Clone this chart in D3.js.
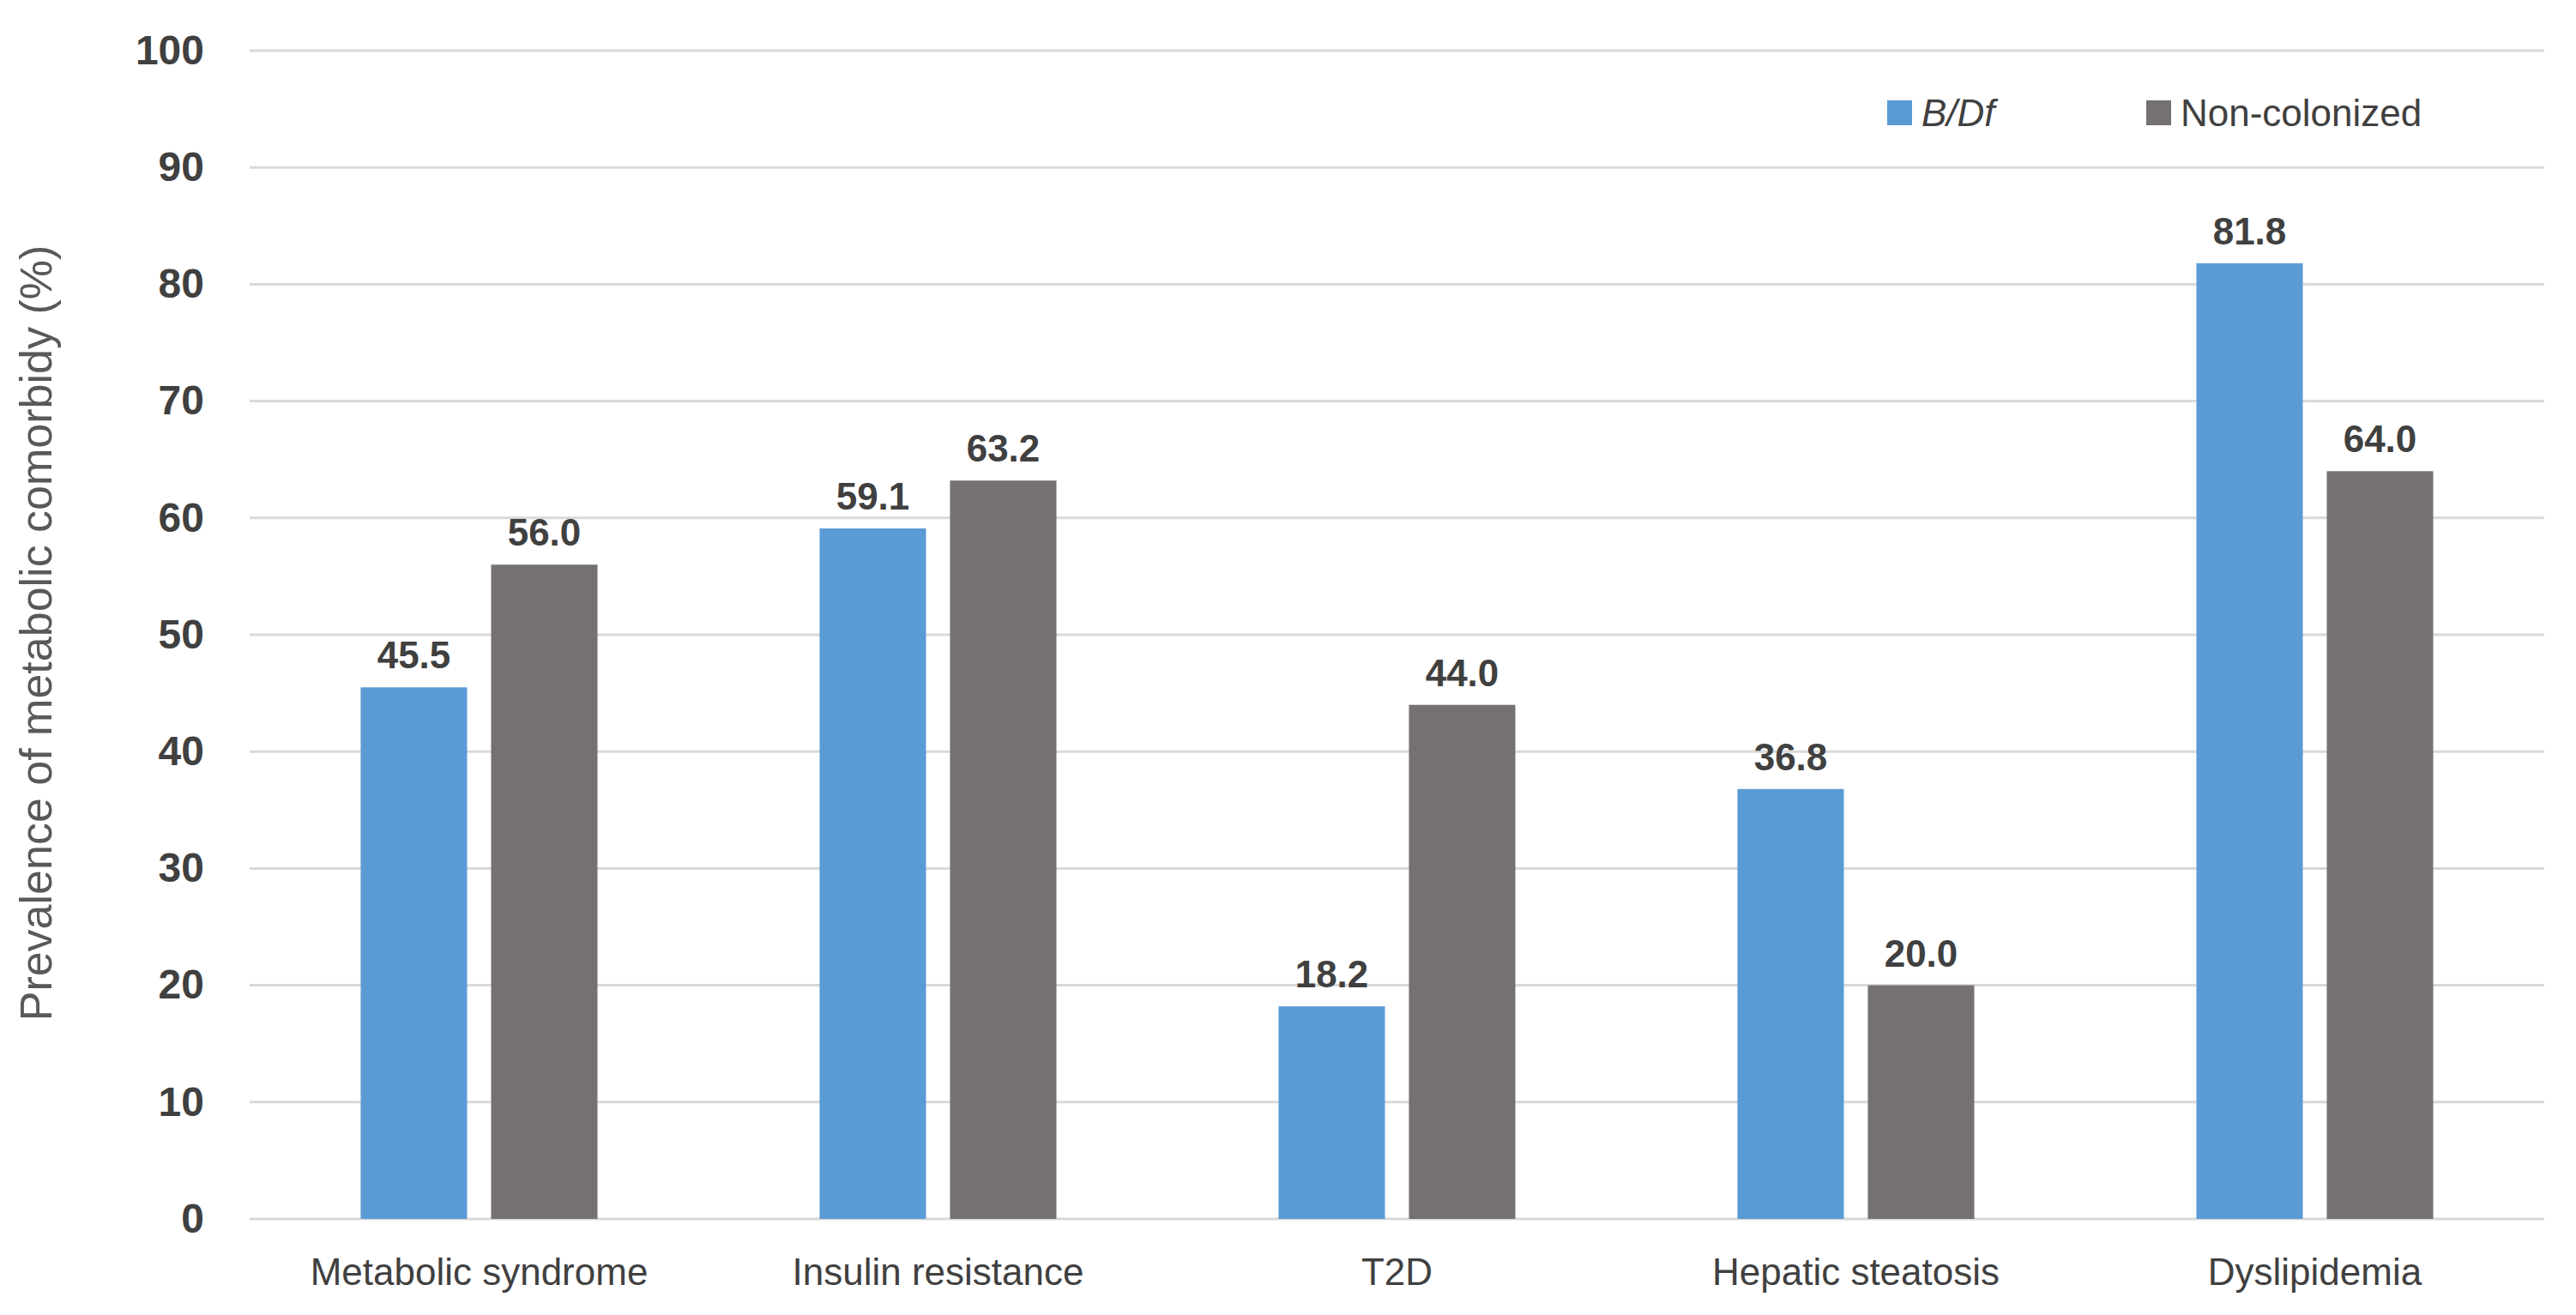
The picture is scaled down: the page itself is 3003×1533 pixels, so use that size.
<!DOCTYPE html>
<html>
<head>
<meta charset="utf-8">
<script src="https://cdn.jsdelivr.net/npm/d3@7"></script>
<style>
  body { margin: 0; background: #fff; }
  svg { display: block; }
</style>
</head>
<body>
<div id="chart"></div>
<script>
const categories = ["Metabolic syndrome", "Insulin resistance", "T2D", "Hepatic steatosis", "Dyslipidemia"];
const seriesNames = ["B/Df", "Non-colonized"];
const bdfValues = [45.5, 59.1, 18.2, 36.8, 81.8];
const nonColonizedValues = [56.0, 63.2, 44.0, 20.0, 64.0];
const yTicks = [0, 10, 20, 30, 40, 50, 60, 70, 80, 90, 100];

const W = 3003, H = 1533;
const margin = { top: 59, right: 37, bottom: 112, left: 291 };
const width = W - margin.left - margin.right;
const height = H - margin.top - margin.bottom;
const colors = { "B/Df": "#5B9BD5", "Non-colonized": "#767171" };
const textCol = "#404040";
const font = "'Liberation Sans', Arial, sans-serif";

const data = categories.map((c, i) => ({
  category: c,
  values: [
    { series: "B/Df", value: bdfValues[i] },
    { series: "Non-colonized", value: nonColonizedValues[i] },
  ],
}));

const svgRoot = d3.select("#chart").append("svg")
  .attr("width", W).attr("height", H)
  .style("font-family", font);
svgRoot.append("rect").attr("width", W).attr("height", H).attr("fill", "#fff");

const svg = svgRoot.append("g")
  .attr("transform", `translate(${margin.left},${margin.top})`);

const x0 = d3.scaleBand().domain(categories).range([0, width])
  .paddingInner(0.484).paddingOuter(0.242);
const x1 = d3.scaleBand().domain(seriesNames).range([0, x0.bandwidth()])
  .paddingInner(0.184);
const y = d3.scaleLinear().domain([0, 100]).range([height, 0]);

// gridlines
svg.append("g")
  .selectAll("line")
  .data(yTicks)
  .join("line")
  .attr("x1", 0).attr("x2", width)
  .attr("y1", (d) => y(d)).attr("y2", (d) => y(d))
  .attr("stroke", "#D9D9D9").attr("stroke-width", 3);

// y axis labels
const yAxis = svg.append("g")
  .call(d3.axisLeft(y).tickValues(yTicks).tickSize(0).tickPadding(53));
yAxis.select(".domain").remove();
yAxis.selectAll("text")
  .style("font-family", font)
  .style("font-size", "48px")
  .style("font-weight", "700")
  .style("fill", textCol);

// bars
const groups = svg.append("g")
  .selectAll("g")
  .data(data)
  .join("g")
  .attr("transform", (d) => `translate(${x0(d.category)},0)`);

groups.selectAll("rect")
  .data((d) => d.values)
  .join("rect")
  .attr("x", (d) => x1(d.series))
  .attr("y", (d) => y(d.value))
  .attr("width", x1.bandwidth())
  .attr("height", (d) => height - y(d.value))
  .attr("fill", (d) => colors[d.series]);

groups.selectAll("text")
  .data((d) => d.values)
  .join("text")
  .attr("x", (d) => x1(d.series) + x1.bandwidth() / 2)
  .attr("y", (d) => y(d.value) - 22)
  .attr("text-anchor", "middle")
  .style("font-size", "44px")
  .style("font-weight", "700")
  .style("fill", textCol)
  .text((d) => d.value.toFixed(1));

// x axis labels
const xAxis = svg.append("g")
  .attr("transform", `translate(0,${height})`)
  .call(d3.axisBottom(x0).tickSize(0).tickPadding(46));
xAxis.select(".domain").remove();
xAxis.selectAll("text")
  .style("font-family", font)
  .style("font-size", "44px")
  .style("fill", textCol);

// y axis title
svgRoot.append("text")
  .attr("transform", "translate(60,738) rotate(-90)")
  .attr("text-anchor", "middle")
  .style("font-size", "52px")
  .style("fill", "#595959")
  .text("Prevalence of metabolic comorbidy (%)");

// legend
const legend = svgRoot.append("g");
const legendX = [2200, 2502];
seriesNames.forEach((s, i) => {
  const g = legend.append("g").attr("transform", `translate(${legendX[i]},117)`);
  g.append("rect").attr("width", 29).attr("height", 29).attr("fill", colors[s]);
  g.append("text")
    .attr("x", 40).attr("y", 14.5)
    .attr("dominant-baseline", "central")
    .style("font-size", "44px")
    .style("font-style", i === 0 ? "italic" : "normal")
    .style("fill", textCol)
    .text(s);
});
</script>
</body>
</html>
